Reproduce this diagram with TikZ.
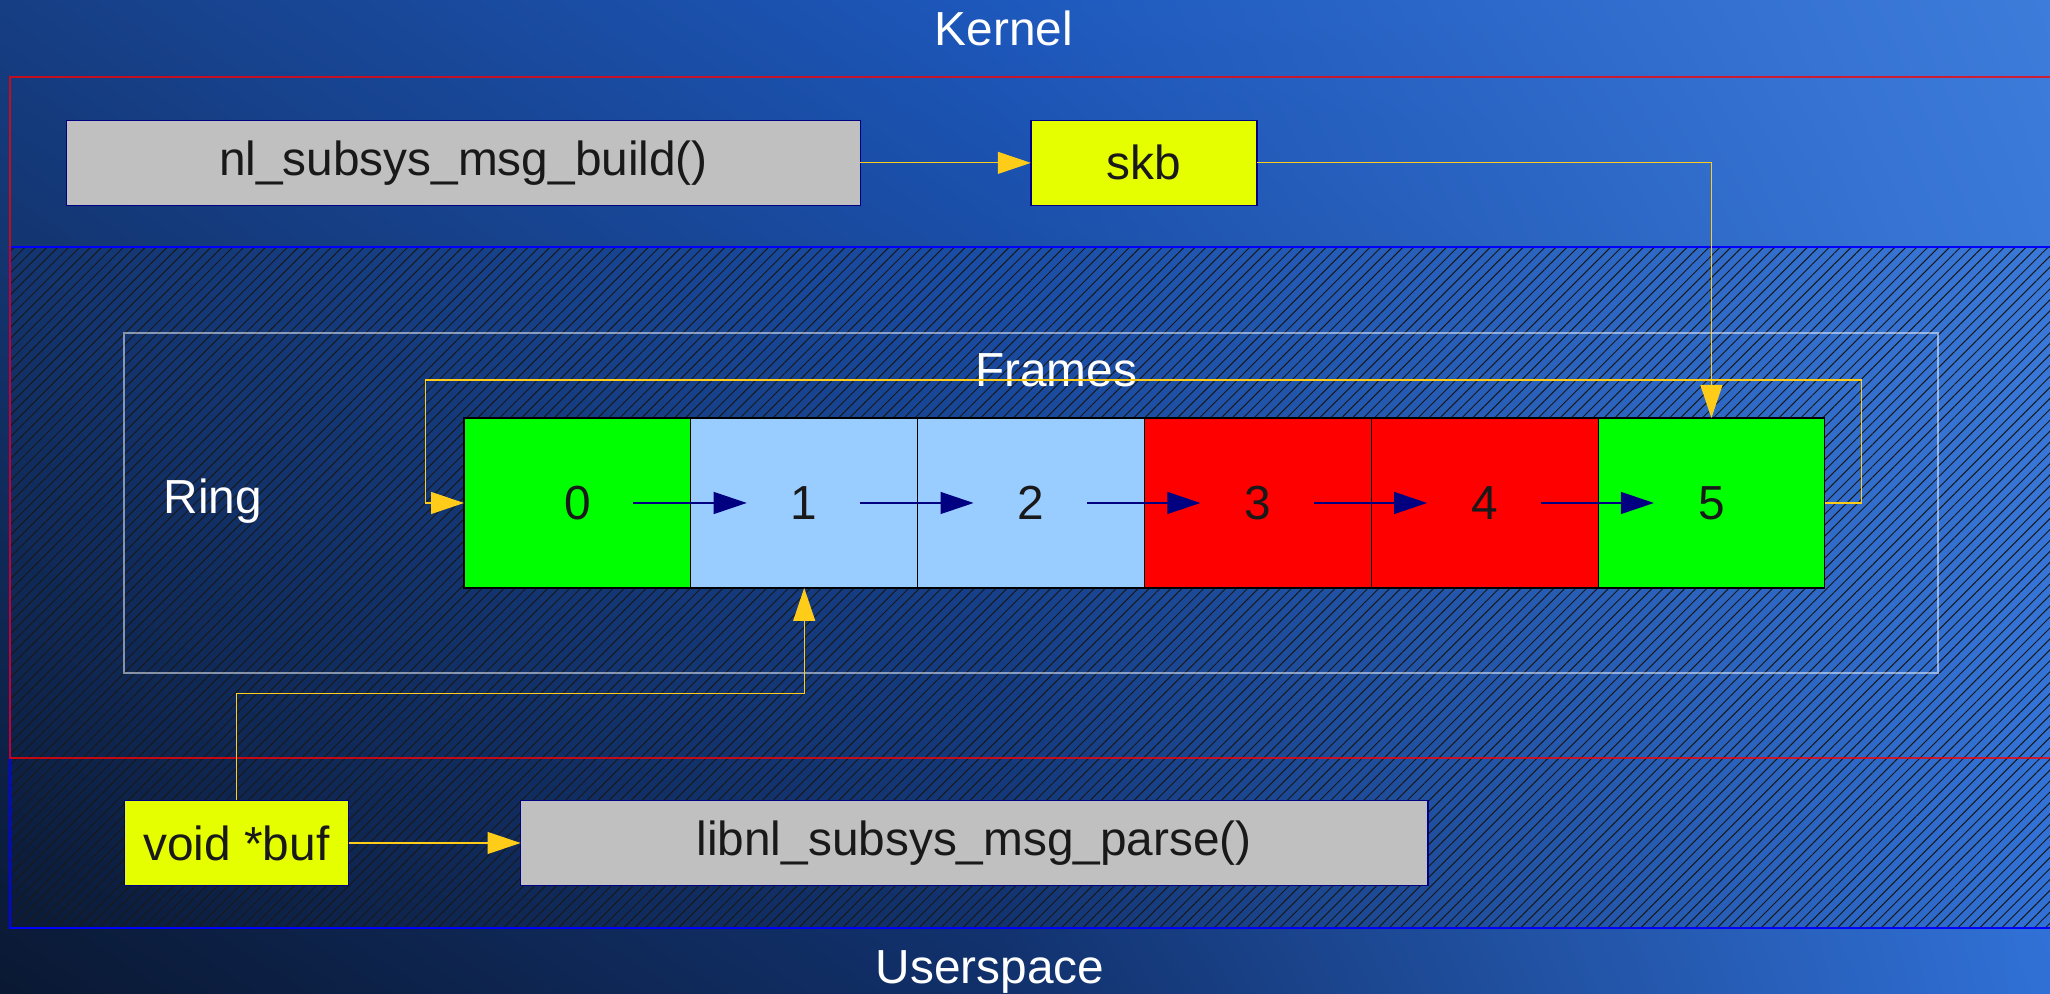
\documentclass[tikz,border=0pt]{standalone}
\usepackage{fontspec}
\setmainfont{Liberation Sans}
\usetikzlibrary{shapes,arrows.meta,positioning,patterns.meta,shadings}

\definecolor{boxgrey}{HTML}{C0C0C0}
\definecolor{ptryellow}{HTML}{E6FF00}
\definecolor{slotgreen}{HTML}{00FF00}
\definecolor{slotblue}{HTML}{99CCFF}
\definecolor{slotred}{HTML}{FF0000}
\definecolor{linkgold}{HTML}{FFCC1A}
\definecolor{linknavy}{HTML}{000080}
\definecolor{bgUL}{HTML}{163E84}
\definecolor{bgUM}{HTML}{1D58BC}
\definecolor{bgUR}{HTML}{3E7CDA}
\definecolor{bgLL}{HTML}{0A1832}
\definecolor{bgLM}{HTML}{11306A}
\definecolor{bgLR}{HTML}{3070D6}

\begin{document}
\begin{tikzpicture}[
    font=\fontsize{13.6pt}{16pt}\selectfont,
    func/.style={rectangle, draw=linknavy, line width=0.4pt, fill=boxgrey, minimum height=0.85cm, inner sep=0pt, outer sep=0pt, text=black!90},
    ptr/.style={func, fill=ptryellow},
    slot/.style={rectangle, draw=black, line width=0.3pt, minimum width=2.268cm, minimum height=1.70cm, inner sep=0pt, outer sep=0pt, text=black!90},
    gold/.style={draw=linkgold, line width=0.3pt, -{Triangle[length=0.33cm, width=0.22cm, fill=linkgold]}},
    next/.style={draw=linknavy, line width=0.35pt, -{Triangle[length=0.33cm, width=0.22cm, fill=linknavy]}},
    title/.style={text=white, anchor=base}
]
    \useasboundingbox (0,0) rectangle (20.5,9.94);

    % background
    \shade[lower left=bgLL, upper left=bgUL, upper right=bgUM, lower right=bgLM] (0,0) rectangle (10,9.94);
    \shade[lower left=bgLM, upper left=bgUM, upper right=bgUR, lower right=bgLR] (10,0) rectangle (20.5,9.94);

    % shared memory area and kernel area
    \fill[pattern={Lines[angle=45, distance=2.2pt, line width=0.28pt]}, pattern color=black!90] (0.10,0.66) rectangle (21,7.47);
    \draw[blue, line width=0.5pt] (21,0.66) -- (0.10,0.66) -- (0.10,7.47) -- (21,7.47);
    \draw[red, line width=0.5pt, draw opacity=0.75] (21,9.17) -- (0.10,9.17) -- (0.10,2.36) -- (21,2.36);

    % ring
    \draw[white, line width=0.5pt, draw opacity=0.5] (1.237,3.21) rectangle (19.38,6.61);
    \node (ring) [title] at (2.13,4.80) {Ring};
    \node (frames) [title] at (10.56,6.07) {Frames};

    \node (f0) [slot, fill=slotgreen, anchor=west] at (4.64,4.91) {0};
    \node (f1) [slot, fill=slotblue, right=0pt of f0] {1};
    \node (f2) [slot, fill=slotblue, right=0pt of f1] {2};
    \node (f3) [slot, fill=slotred, right=0pt of f2] {3};
    \node (f4) [slot, fill=slotred, right=0pt of f3] {4};
    \node (f5) [slot, fill=slotgreen, right=0pt of f4] {5};

    \draw[next] ([xshift=0.56cm]f0.center) -- ([xshift=-0.575cm]f1.center);
    \draw[next] ([xshift=0.56cm]f1.center) -- ([xshift=-0.575cm]f2.center);
    \draw[next] ([xshift=0.56cm]f2.center) -- ([xshift=-0.575cm]f3.center);
    \draw[next] ([xshift=0.56cm]f3.center) -- ([xshift=-0.575cm]f4.center);
    \draw[next] ([xshift=0.56cm]f4.center) -- ([xshift=-0.575cm]f5.center);

    \coordinate (wrap) at (4.254,6.14);
    \draw[gold] (f5.east) -- ++(0.37,0) |- (wrap) |- (f0.west);

    % kernel side
    \node (build) [func, minimum width=7.936cm] at (4.635,8.311) {nl\_subsys\_msg\_build()};
    \node (skb) [ptr, minimum width=2.262cm] at (11.439,8.311) {skb};
    \draw[gold] (build) -- (skb);
    \draw[gold] (skb.east) -| (f5.north);

    % userspace side
    \node (buf) [ptr, minimum width=2.245cm] at (2.365,1.51) {void *buf};
    \node (parse) [func, minimum width=9.073cm] at (9.742,1.51) {libnl\_subsys\_msg\_parse()};
    \draw[gold] (buf) -- (parse);
    \draw[gold] (buf.north) -- ++(0,1.07) -| (f1.south);

    \node (kernel) [title] at (10.04,9.48) {Kernel};
    \node (user) [title] at (9.90,0.10) {Userspace};
\end{tikzpicture}
\end{document}
